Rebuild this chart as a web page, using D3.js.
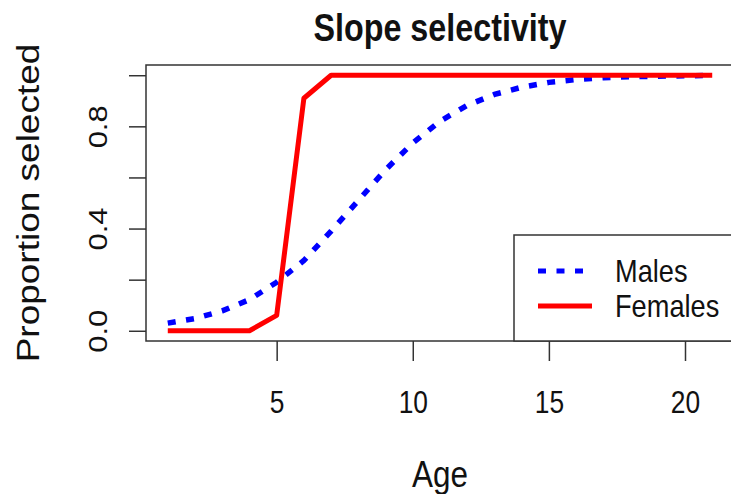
<!DOCTYPE html>
<html>
<head>
<meta charset="UTF-8" />
<title>Slope selectivity</title>
<script src="https://cdn.jsdelivr.net/npm/d3@7"></script>
<style>
    body { margin: 0; background: #fff; }
    text { font-family: "Liberation Sans", Arial, sans-serif; fill: #111; }
</style>
</head>
<body>
<div id="chart"></div>
<script>
    // data
    var ages = [1,2,3,4,5,6,7,8,9,10,11,12,13,14,15,16,17,18,19,20,21];
    var males = [0.030,0.048,0.078,0.122,0.190,0.275,0.390,0.510,0.630,0.735,0.820,0.882,0.925,0.953,0.972,0.983,0.990,0.994,0.996,0.998,0.999];
    var females = [0,0,0,0,0.06,0.91,1,1,1,1,1,1,1,1,1,1,1,1,1,1,1];
    var xTicks = [5,10,15,20];
    var yTicks = [0,0.2,0.4,0.6,0.8,1.0];
    var yTickLabels = ["0.0","","0.4","","0.8",""];
    var seriesNames = ["Males","Females"];

    var W = 731, H = 494;
    var sq = 0.85; // picture is squeezed sideways a little

    var svg = d3.select("#chart").append("svg").attr("width", W).attr("height", H);

    var x = d3.scaleLinear().domain([0.2, 21.8]).range([146, 734]);
    var y = d3.scaleLinear().domain([-0.04, 1.04]).range([341, 65]);

    // x axis
    var xa = svg.append("g").attr("transform", "translate(0,341)")
        .call(d3.axisBottom(x).tickValues(xTicks).tickSize(20).tickFormat(d3.format("d")));
    xa.select(".domain").remove();
    xa.selectAll("line").attr("stroke", "#333").attr("stroke-width", 1.5);
    xa.selectAll("text")
        .attr("y", null).attr("dy", null)
        .attr("transform", "translate(0,72) scale(" + sq + ",1)")
        .attr("text-anchor", "middle")
        .style("font-size", "31px");

    // y axis
    var ya = svg.append("g").attr("transform", "translate(146,0)")
        .call(d3.axisLeft(y).tickValues(yTicks).tickSize(17).tickFormat(function (d, i) { return yTickLabels[i]; }));
    ya.select(".domain").remove();
    ya.selectAll("line").attr("stroke", "#333").attr("stroke-width", 1.5);
    ya.selectAll("text")
        .attr("x", null).attr("dy", null)
        .attr("transform", "translate(-39,0) scale(" + sq + ",1) rotate(-90)")
        .attr("text-anchor", "middle")
        .style("font-size", "31px");

    // lines
    var line = d3.line().x(function (d) { return x(d[0]); }).y(function (d) { return y(d[1]); });
    svg.append("path")
        .datum(d3.zip(ages, males))
        .attr("d", line)
        .attr("fill", "none").attr("stroke", "#0000ff").attr("stroke-width", 5.5)
        .attr("stroke-dasharray", "8,10.5");
    svg.append("path")
        .datum(d3.zip(ages, females))
        .attr("d", line)
        .attr("fill", "none").attr("stroke", "#ff0000").attr("stroke-width", 5)
        .attr("stroke-linejoin", "round");

    // plot box
    svg.append("rect")
        .attr("x", 146).attr("y", 65).attr("width", 588).attr("height", 276)
        .attr("fill", "none").attr("stroke", "#333").attr("stroke-width", 1.5);

    // legend
    var lg = svg.append("g");
    lg.append("rect")
        .attr("x", 514).attr("y", 235).attr("width", 220).attr("height", 106)
        .attr("fill", "#fff").attr("stroke", "#333").attr("stroke-width", 1.5);
    var rows = [
        { name: seriesNames[0], color: "#0000ff", dash: "8,10.5", y: 271 },
        { name: seriesNames[1], color: "#ff0000", dash: null, y: 306 }
    ];
    rows.forEach(function (r) {
        lg.append("line")
            .attr("x1", 538).attr("x2", 592).attr("y1", r.y).attr("y2", r.y)
            .attr("stroke", r.color).attr("stroke-width", 5)
            .attr("stroke-dasharray", r.dash);
        lg.append("text")
            .attr("transform", "translate(615," + (r.y + 11) + ") scale(" + sq + ",1)")
            .style("font-size", "32px")
            .text(r.name);
    });

    // titles
    svg.append("text")
        .attr("transform", "translate(440,41) scale(" + sq + ",1)")
        .attr("text-anchor", "middle")
        .style("font-size", "38px").style("font-weight", "bold")
        .text("Slope selectivity");
    svg.append("text")
        .attr("transform", "translate(440,487) scale(" + sq + ",1)")
        .attr("text-anchor", "middle")
        .style("font-size", "37px")
        .text("Age");
    svg.append("text")
        .attr("transform", "translate(39,203) scale(" + sq + ",1) rotate(-90)")
        .attr("text-anchor", "middle")
        .style("font-size", "37px")
        .text("Proportion selected");
</script>
</body>
</html>
